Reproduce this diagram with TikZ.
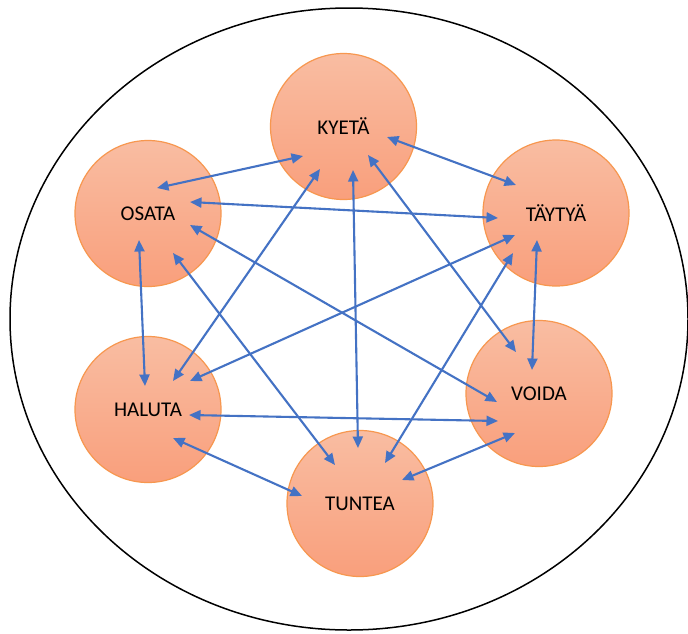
\documentclass[tikz,border=0pt]{standalone}
\usepackage{fontspec}
\setmainfont{Carlito}
\usetikzlibrary{arrows.meta}
\definecolor{arrowblue}{HTML}{4472C4}
\definecolor{orangeline}{HTML}{F7974F}
\definecolor{filltop}{HTML}{F9BDA2}
\definecolor{fillbot}{HTML}{F99F7C}
\tikzset{
  verb/.style={circle, minimum size=146pt, inner sep=0pt, draw=orangeline, line width=1.2pt,
    top color=filltop, bottom color=fillbot, font=\fontsize{21}{24}\selectfont, text=black},
  link/.style={draw=arrowblue, line width=2.1pt,
    {Triangle[length=11.5pt,width=10pt]}-{Triangle[length=11.5pt,width=10pt]}},
}
\begin{document}
\begin{tikzpicture}[x=1pt,y=-1pt]
\useasboundingbox (0,0) rectangle (688,633);
\fill[white] (0,0) rectangle (688,633);
\draw[line width=1.5pt, black] (349,319) ellipse [x radius=339, y radius=311];
\node[verb] (K) at (343.5,126.5) {KYETÄ};
\node[verb] (O) at (148,213.5) {OSATA};
\node[verb] (T) at (556,213) {TÄYTYÄ};
\node[verb] (H) at (148,409.5) {HALUTA};
\node[verb] (V) at (539,393.5) {VOIDA};
\node[verb] (U) at (360,503.5) {TUNTEA};
\path[link] ([shift={(-40.5,29.5)}]K.center) -- ([shift={(9,-25.5)}]O.center);
\path[link] ([shift={(43.5,10.5)}]K.center) -- ([shift={(-40,-28)}]T.center);
\path[link] ([shift={(24.5,28.5)}]K.center) -- ([shift={(-23,-41.5)}]V.center);
\path[link] ([shift={(9.5,43.5)}]K.center) -- ([shift={(-2,-55.5)}]U.center);
\path[link] ([shift={(-23.5,42.5)}]K.center) -- ([shift={(25,-28.5)}]H.center);
\path[link] ([shift={(42,-11.5)}]O.center) -- ([shift={(-58,5)}]T.center);
\path[link] ([shift={(42,11.5)}]O.center) -- ([shift={(-42,8.5)}]V.center);
\path[link] ([shift={(25,39.5)}]O.center) -- ([shift={(-25,-38.5)}]U.center);
\path[link] ([shift={(-9,26.5)}]O.center) -- ([shift={(-3,-23.5)}]H.center);
\path[link] ([shift={(-41,22)}]T.center) -- ([shift={(42,-28.5)}]H.center);
\path[link] ([shift={(-19,27)}]T.center) -- ([shift={(-7,-23.5)}]V.center);
\path[link] ([shift={(-43,40)}]T.center) -- ([shift={(25,-40.5)}]U.center);
\path[link] ([shift={(41,5.5)}]H.center) -- ([shift={(-41,27.5)}]V.center);
\path[link] ([shift={(25,28.5)}]H.center) -- ([shift={(-58,-7.5)}]U.center);
\path[link] ([shift={(-24,39.5)}]V.center) -- ([shift={(42,-23.5)}]U.center);
\end{tikzpicture}
\end{document}
